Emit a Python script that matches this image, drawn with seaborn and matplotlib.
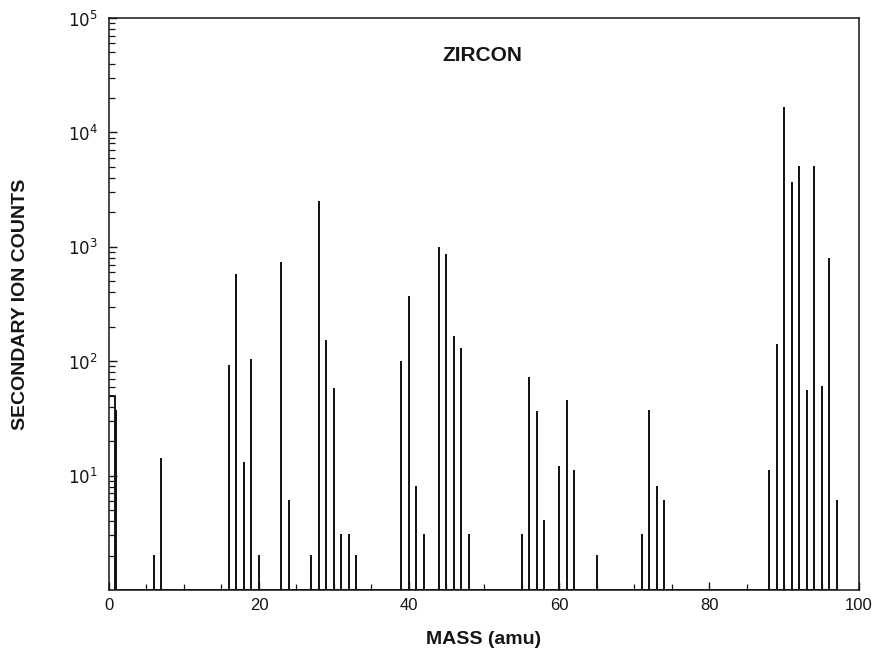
import numpy as np
import pandas as pd
import matplotlib
matplotlib.use("Agg")
import matplotlib.pyplot as plt
import seaborn as sns
from matplotlib.ticker import FixedLocator, NullFormatter

# Peak intensities of the secondary ion mass spectrum (integer masses, amu)
masses = [1, 6, 7, 16, 17, 18, 19, 20, 23, 24, 27, 28, 29, 30, 31, 32, 33,
          39, 40, 41, 42, 44, 45, 46, 47, 48, 55, 56, 57, 58, 60, 61, 62, 65,
          71, 72, 73, 74, 88, 89, 90, 91, 92, 93, 94, 95, 96, 97]
counts = [37, 2, 14, 90, 570, 13, 102, 2, 720, 6, 2, 2450, 150, 57, 3, 3, 2,
          98, 366, 8, 3, 980, 850, 163, 127, 3, 3, 72, 36, 4, 12, 45, 11, 2,
          3, 37, 8, 6, 11, 139, 16300, 3640, 5000, 55, 5000, 60, 780, 6]

# Pen trace at the very start of the scan
start_mass = [0.0, 0.8, 0.8]
start_counts = [50, 50, 1]

title = "ZIRCON"
x_ticks = [0, 20, 40, 60, 80, 100]
y_ticks = [1e1, 1e2, 1e3, 1e4, 1e5]

sns.set_theme(style="ticks")
plt.rcParams["font.family"] = ["Liberation Sans", "DejaVu Sans"]

# Build the spectrum trace: each peak rises from the baseline and falls back
rows = []
for m, c in zip(masses, counts):
    rows += [(m, 1.0), (m, c), (m, 1.0)]
trace = pd.DataFrame(rows, columns=["mass", "counts"])
start = pd.DataFrame({"mass": start_mass, "counts": start_counts})

fig = plt.figure(figsize=(8.78, 6.5), dpi=100)
ax = fig.add_axes([0.1241, 0.0923, 0.8543, 0.8800])

line_kw = dict(estimator=None, sort=False, color="#151515", linewidth=1.4, ax=ax)
sns.lineplot(data=trace, x="mass", y="counts", **line_kw)
sns.lineplot(data=start, x="mass", y="counts", **line_kw)

ax.set_yscale("log")
ax.set_xlim(0, 100)
ax.set_ylim(1, 1e5)

ax.xaxis.set_major_locator(FixedLocator(x_ticks))
ax.xaxis.set_minor_locator(FixedLocator(np.arange(0, 101, 5)))
ax.set_xticklabels([str(t) for t in x_ticks])

ax.yaxis.set_major_locator(FixedLocator(y_ticks))
ax.set_yticklabels([f"$10^{{{int(np.log10(t))}}}$" for t in y_ticks])
minor_y = [k * 10 ** d for d in range(0, 5) for k in range(2, 10)]
ax.yaxis.set_minor_locator(FixedLocator(minor_y))
ax.yaxis.set_minor_formatter(NullFormatter())

ax.tick_params(axis="both", which="major", direction="in", length=6,
               width=1.0, color="#151515", labelsize=12, labelcolor="#151515")
ax.tick_params(axis="both", which="minor", direction="in", length=4,
               width=0.9, color="#151515")
ax.tick_params(axis="x", which="major", pad=6)
ax.tick_params(axis="y", which="major", pad=8)

for sp in ax.spines.values():
    sp.set_linewidth(1.1)
    sp.set_color("#151515")

ax.set_xlabel("MASS (amu)", fontsize=14, fontweight="bold", labelpad=13,
              color="#151515")
ax.set_ylabel("SECONDARY ION COUNTS", fontsize=14, fontweight="bold",
              labelpad=28, color="#151515")
ax.text(0.498, 0.935, title, transform=ax.transAxes, ha="center", va="center",
        fontsize=15, fontweight="bold", color="#151515")

fig.savefig("out.png", dpi=100)
